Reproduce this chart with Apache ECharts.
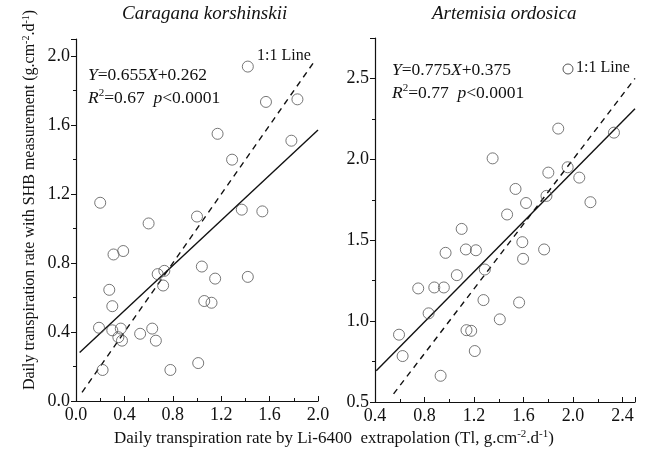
<!DOCTYPE html>
<html><head><meta charset="utf-8">
<script src="https://cdn.jsdelivr.net/npm/echarts@6/dist/echarts.min.js"></script>
<style>html,body{margin:0;padding:0;background:#fff}#c{width:645px;height:452px}</style>
</head><body><div id="c"></div>
<script>
// ---- data ----
const titles = ['Caragana korshinskii', 'Artemisia ordosica'];
const ckPoints = [
 [1.42,1.94],[1.57,1.735],[1.83,1.75],[1.17,1.55],[1.78,1.51],[1.29,1.40],
 [0.20,1.15],[0.60,1.03],[1.00,1.07],[1.37,1.11],[1.54,1.10],
 [0.31,0.85],[0.39,0.87],[0.675,0.736],[0.73,0.755],[0.72,0.67],[1.04,0.78],
 [1.15,0.71],[1.42,0.72],[0.275,0.645],[0.30,0.55],[1.06,0.58],[1.12,0.57],
 [0.19,0.425],[0.30,0.41],[0.37,0.42],[0.35,0.37],[0.38,0.35],[0.53,0.39],
 [0.63,0.42],[0.66,0.35],[0.22,0.18],[0.78,0.18],[1.01,0.22]
];
const aoPoints = [
 [1.88,2.19],[2.33,2.165],[1.35,2.006],[1.80,1.918],[1.956,1.951],[2.05,1.887],
 [1.535,1.817],[1.785,1.774],[1.62,1.73],[2.14,1.735],[1.467,1.659],[1.10,1.57],
 [1.59,1.488],[1.766,1.443],[1.596,1.385],[0.97,1.422],[1.134,1.443],[1.215,1.438],
 [1.061,1.284],[1.287,1.319],[0.749,1.202],[0.879,1.208],[0.956,1.208],[1.276,1.13],
 [1.564,1.115],[0.833,1.048],[1.408,1.011],[0.594,0.916],[1.139,0.944],[1.177,0.94],
 [0.623,0.784],[1.206,0.815],[0.93,0.662]
];
const ckFit = [[0.03,0.282],[2.0,1.572]];
const ckOneToOne = [[0.05,0.05],[1.97,1.97]];
const aoFit = [[0.41,0.693],[2.5,2.3125]];
const aoOneToOne = [[0.55,0.55],[2.5,2.5]];
const ckEq = ['{i|Y}=0.655{i|X}+0.262', '{i|R}{sup|2}=0.67  {i|p}<0.0001'];
const aoEq = ['{i|Y}=0.775{i|X}+0.375', '{i|R}{sup|2}=0.77  {i|p}<0.0001'];
const lineLabel = '1:1 Line';
const yName = 'Daily transpiration rate with SHB measurement (g.cm{sup|-2}.d{sup|-1})';
const xName = 'Daily transpiration rate by Li-6400  extrapolation (Tl, g.cm{sup|-2}.d{sup|-1})';

const FONT = 'Liberation Serif';
function mkRich(fs){return {
  i: {fontStyle:'italic', fontFamily:FONT, fontSize:fs, fill:'#111', color:'#111'},
  sup: {fontFamily:FONT, fontSize:Math.round(fs*0.62), verticalAlign:'top', padding:[0,0,Math.round(fs*0.5),0], fill:'#111', color:'#111'}
};}
function xAxisCfg(idx,min,max){return {gridIndex:idx,type:'value',min:min,max:max,interval:0.4,
  axisLine:{onZero:false,lineStyle:{color:'#111',width:1.2}},
  axisTick:{inside:true,length:5,lineStyle:{color:'#111'}},
  minorTick:{show:true,splitNumber:2,length:3,lineStyle:{color:'#111'}},
  splitLine:{show:false},
  axisLabel:{showMaxLabel:idx===0,color:'#111',fontFamily:FONT,fontSize:18,margin:5,formatter:v=>v.toFixed(1)}};}
function yAxisCfg(idx,min,max,interval){return {gridIndex:idx,type:'value',min:min,max:max,interval:interval,
  axisLine:{show:true,onZero:false,lineStyle:{color:'#111',width:1.2}},
  axisTick:{show:true,inside:false,length:5,lineStyle:{color:'#111'}},
  minorTick:{show:true,splitNumber:2,length:3,lineStyle:{color:'#111'}},
  splitLine:{show:false},
  axisLabel:{showMaxLabel:false,color:'#111',fontFamily:FONT,fontSize:18,margin:6,formatter:v=>v.toFixed(1)}};}
const scat = (i,d)=>({type:'scatter',xAxisIndex:i,yAxisIndex:i,data:d,symbol:'circle',symbolSize:11,
  itemStyle:{color:'rgba(255,255,255,0)',borderColor:'#555',borderWidth:1},silent:true,z:3});
const ln = (i,d,dash)=>({type:'line',xAxisIndex:i,yAxisIndex:i,data:d,symbol:'none',silent:true,
  lineStyle:{color:'#111',width:1.4,type:dash?[6,5]:'solid'},z:2});
const txt = (x,y,t,fs)=>({type:'text',left:x,top:y,style:{text:t,fontFamily:FONT,fontSize:fs,fill:'#111',rich:mkRich(fs)}});

const chart = echarts.init(document.getElementById('c'),null,{renderer:'canvas'});
chart.setOption({
  animation:false,
  grid:[{left:76,top:39,width:242,height:362},{left:375,top:38,width:260,height:364}],
  xAxis:[xAxisCfg(0,0,2.0),xAxisCfg(1,0.4,2.5)],
  yAxis:[yAxisCfg(0,0,2.1,0.4),yAxisCfg(1,0.5,2.75,0.5)],
  series:[scat(0,ckPoints),ln(0,ckFit,false),ln(0,ckOneToOne,true),
          scat(1,aoPoints),ln(1,aoFit,false),ln(1,aoOneToOne,true)],
  graphic:[
    {type:'text',left:122,top:4,style:{text:titles[0],fontFamily:FONT,fontSize:19,fontStyle:'italic',fill:'#111'}},
    {type:'text',left:432,top:4,style:{text:titles[1],fontFamily:FONT,fontSize:19,fontStyle:'italic',fill:'#111'}},
    txt(88,66,ckEq[0],17.5),txt(88,88,ckEq[1],17.5),
    txt(392,61,aoEq[0],17.5),txt(392,83,aoEq[1],17.5),
    txt(257,48,lineLabel,16),
    {type:'circle',shape:{cx:568,cy:69,r:5},style:{fill:'none',stroke:'#555',lineWidth:1}},
    txt(576,60,lineLabel,16),
    {type:'text',x:30,y:200,rotation:Math.PI/2,style:{text:yName,fontFamily:FONT,fontSize:16,fill:'#111',rich:mkRich(16),align:'center',verticalAlign:'middle'}},
    {type:'text',x:334,y:439,style:{text:xName,fontFamily:FONT,fontSize:17,fill:'#111',rich:mkRich(17),align:'center',verticalAlign:'middle'}}
  ]
});
</script></body></html>
